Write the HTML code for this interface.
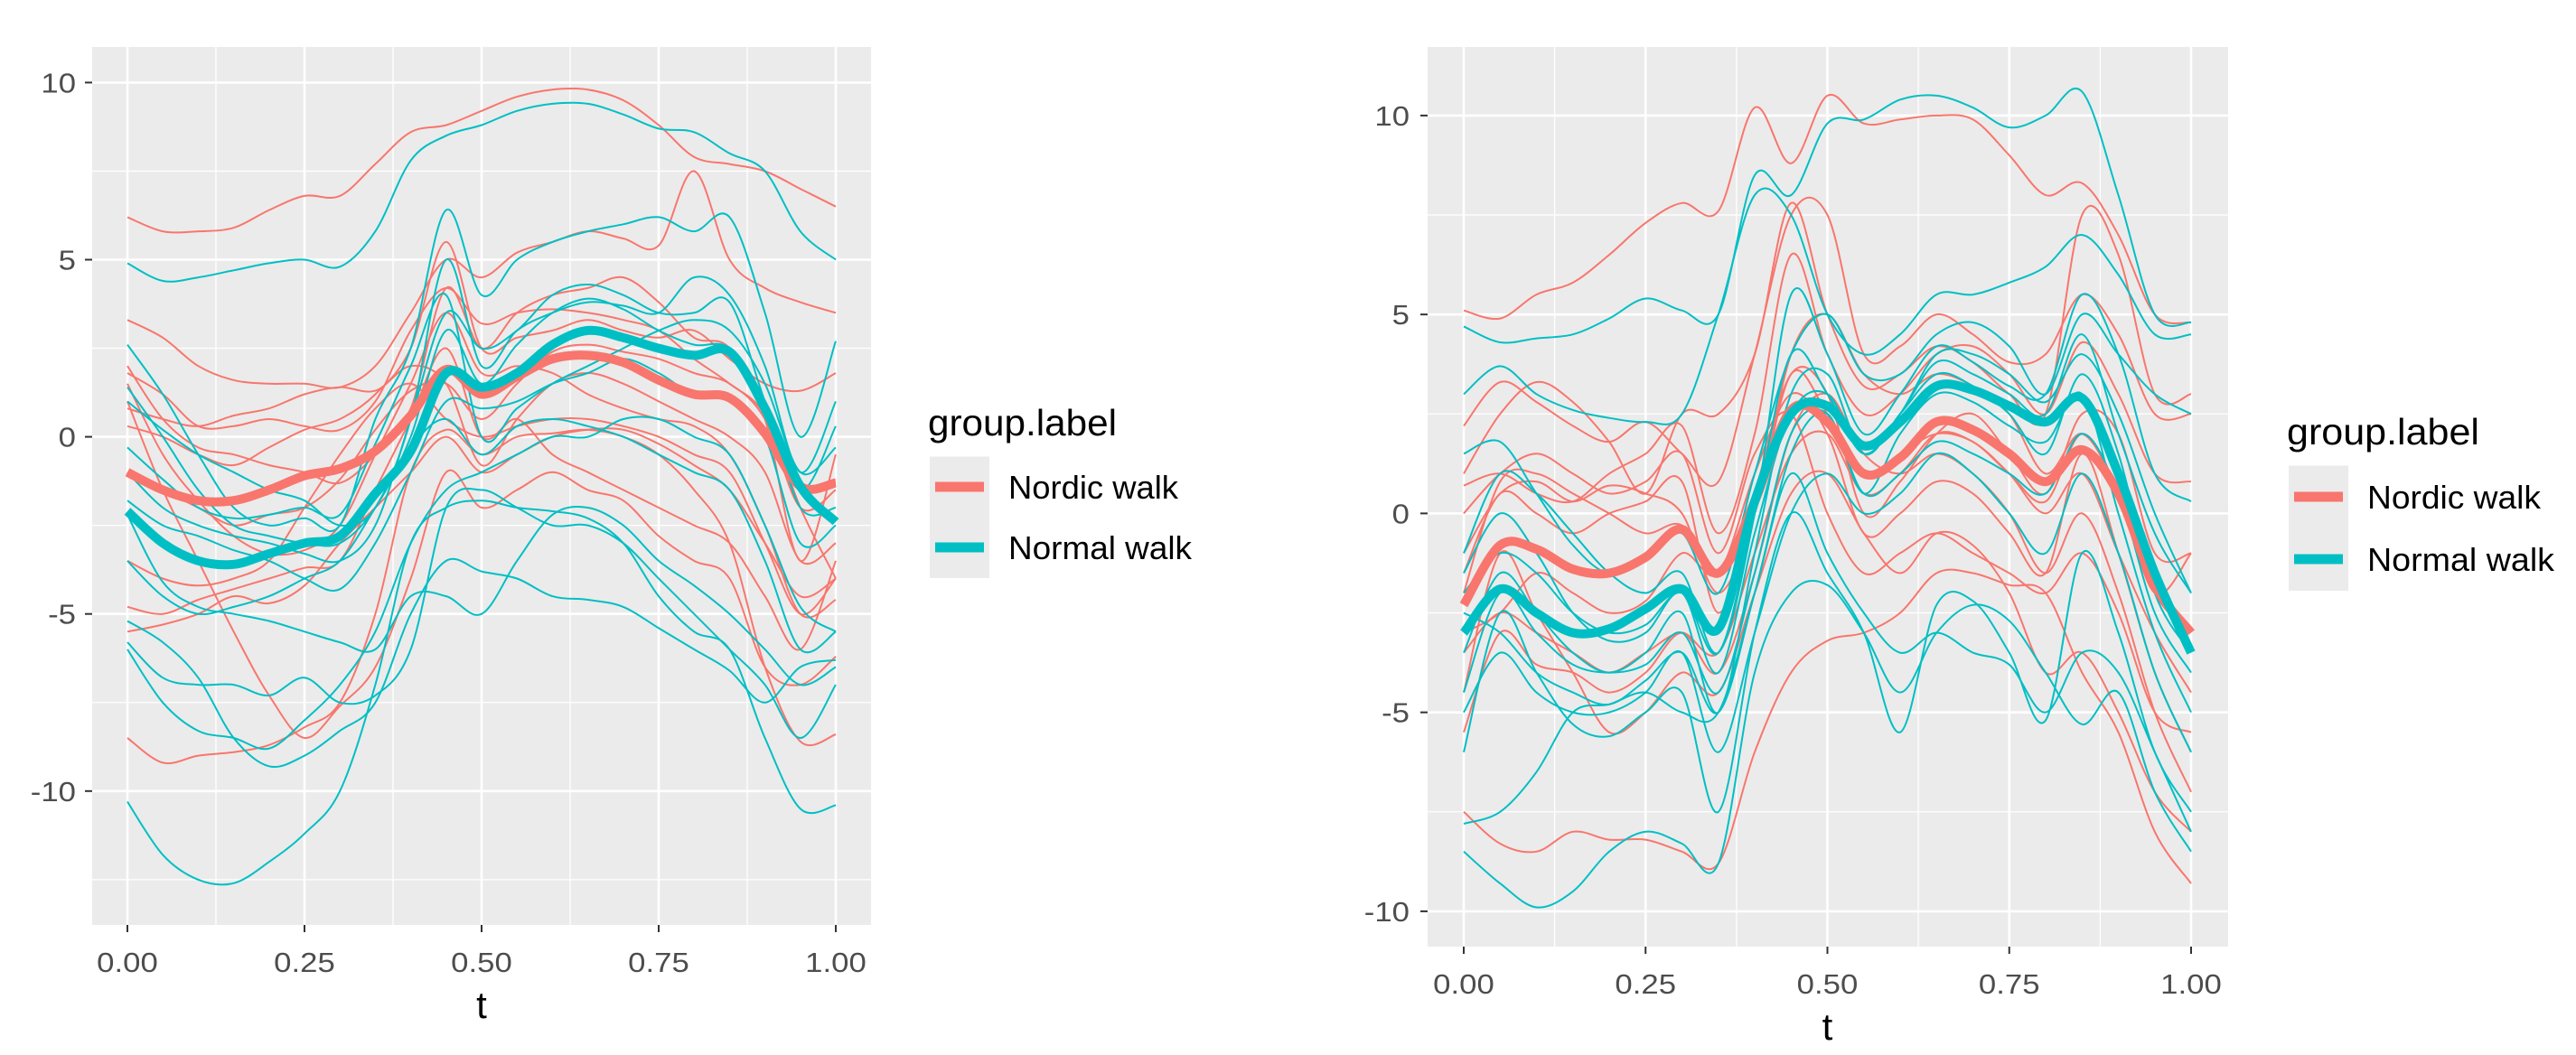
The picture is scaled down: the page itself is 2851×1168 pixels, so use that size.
<!DOCTYPE html>
<html><head><meta charset="utf-8">
<style>
html,body{margin:0;padding:0;background:#fff;}
svg{display:block;font-family:"Liberation Sans",Arial,sans-serif;}
</style></head>
<body>
<svg id="chart" width="2851" height="1168" viewBox="0 0 2851 1168" xmlns="http://www.w3.org/2000/svg"></svg>
<script>
const tGrid = [0,0.05,0.1,0.15,0.2,0.25,0.3,0.35,0.4,0.45,0.5,0.55,0.6,0.65,0.7,0.75,0.8,0.85,0.9,0.95,1];
const xTicks = [0,0.25,0.5,0.75,1];
const xTickLabels = ["0.00","0.25","0.50","0.75","1.00"];
const yTicks = [-10,-5,0,5,10];
const yTickLabels = ["-10","-5","0","5","10"];
const groups = ["Nordic walk","Normal walk"];

const leftNordicMean = [-1,-1.5,-1.8,-1.8,-1.5,-1.1,-0.9,-0.4,0.6,1.9,1.2,1.7,2.2,2.3,2.1,1.6,1.2,1.1,0.1,-1.4,-1.3];
const leftNormalMean = [-2.1,-3.0,-3.5,-3.6,-3.3,-3.0,-2.8,-1.6,-0.4,1.8,1.4,1.8,2.6,3.0,2.8,2.5,2.3,2.4,0.8,-1.4,-2.4];
const leftNordicCurves = [
[6.2,5.8,5.8,5.9,6.4,6.8,6.8,7.7,8.6,8.8,9.2,9.6,9.8,9.8,9.5,8.8,7.9,7.7,7.5,7,6.5],
[3.3,2.8,2.0,1.6,1.5,1.5,1.4,2.0,3.5,5,4.5,5.2,5.5,5.8,5.6,5.4,7.5,5,4.2,3.8,3.5],
[1.8,1.2,0.3,0.3,0.5,0.3,0.2,1.0,3,4.2,3.2,3.5,3.6,3.5,3.3,3.0,2.2,1.5,0.6,-2,-4],
[0.3,0,-0.5,-0.8,-0.3,0.2,0.5,1.2,2.5,5.5,2.5,2.8,3,3.3,3.0,2.8,3,2.2,1.5,1.3,1.8],
[-3.5,-4,-4.2,-4.0,-3.5,-2.0,-0.5,0.8,1.5,0.5,0,0.3,0.5,0.5,0.3,0,-0.5,-1,-3,-5,-4],
[-4.8,-5,-4.6,-4.3,-4.0,-3.7,-3.5,-1.5,0.5,2.5,0,0.5,-0.5,-1,-1.5,-2,-2.5,-3,-4.5,-6,-3.5],
[-8.5,-9.2,-9.0,-8.9,-8.7,-8.2,-7.5,-5,-1,0.2,-0.5,0,0.1,0.2,0,-0.5,-1.5,-3,-6.5,-8.6,-8.4],
[1.5,-0.5,-1.8,-2.8,-3.3,-3.2,-2.5,-0.5,1.5,3.5,1.8,2,1.8,1.2,0.8,0.5,0.3,-0.5,-2.5,-5,-4.6],
[1.0,-1.5,-3.5,-5.5,-7.3,-8.5,-7.6,-6.5,-4,-1,-2,-1.5,-1,-1.5,-1.8,-2.8,-3.5,-4,-6.5,-7,-6.2],
[2.0,0.5,-0.3,-0.5,-0.8,-1,-1.3,-0.5,0.8,4.2,2.5,3.5,4.0,4.2,4.5,3.8,2.8,2.5,0.5,-3.5,-0.5],
[-1.0,-1.5,-2.0,-2.5,-2.2,-2.0,-1.2,0.2,1.3,1.5,0.5,1.5,2.4,2.6,2.4,2.2,1.8,1.5,0.5,-2,-1.5],
[0.8,0.5,0.3,0.6,0.8,1.2,1.4,1.3,2.0,1.5,-0.8,0.5,1.5,1.8,1.5,1.0,0.5,0,-1,-3.5,-3],
[-5.5,-5.3,-5.0,-4.5,-4.7,-4.2,-3.0,-2,-1,0,-1,-0.5,0,0.2,0.2,-0.2,-0.8,-1.5,-3,-4.5,-4]
];
const leftNormalCurves = [
[4.9,4.4,4.5,4.7,4.9,5.0,4.8,5.8,7.8,8.5,8.8,9.2,9.4,9.4,9.1,8.7,8.6,8.0,7.5,5.8,5.0],
[-10.3,-11.8,-12.5,-12.6,-12.0,-11.2,-10,-7,-3,-2,-1.8,-2,-2.1,-2.3,-3,-4.5,-5.5,-6,-8.5,-10.5,-10.4],
[-5.8,-6.8,-7.0,-7.0,-7.3,-6.8,-7.5,-7.3,-6,-2,-1.5,-2,-2.5,-2.5,-3,-4,-5,-6,-7,-8.5,-7],
[2.6,1.2,-0.5,-2,-2.5,-2.3,-2.5,0.5,2.5,6.4,4,5,5.5,5.8,6.0,6.2,5.8,6.2,3.5,0,2.7],
[-0.3,-1.2,-2.0,-2.3,-2.2,-2.0,-2.2,-0.2,2,4,0,0.8,1.5,2.0,2.5,3.0,3.3,3.0,1.5,-1,-0.3],
[-5.2,-5.8,-6.8,-8.5,-9.3,-9.0,-8.3,-7.5,-5,-3.5,-3.8,-4,-4.5,-4.6,-4.8,-5.4,-6,-6.6,-7.5,-6.5,-6.3],
[-2.2,-4.1,-4.8,-5.0,-5.2,-5.5,-5.8,-6,-4.5,-4.5,-5,-3.5,-2.2,-2,-2.5,-3.5,-4.2,-5,-6,-7,-6.5],
[1.4,0.0,-1.5,-2.5,-2.8,-3,-3.0,-2,0,3,1.5,2.6,3.5,3.9,3.6,3.0,2.6,2.5,1.0,-2,-2],
[-1.8,-2.5,-2.8,-3.2,-3.5,-4,-4.3,-3,-1,1,0.8,1,1.5,1.8,2.2,1.8,1.2,1.2,0,-3,-2.5],
[-3.5,-4.5,-5,-4.8,-4.5,-4.0,-3.5,-2,-0.3,0.5,-0.5,0.3,0.5,0.3,0,-0.5,-1,-1.5,-3.5,-6,-5.5],
[-1.0,-2.0,-2.5,-2.8,-3.0,-3.3,-3.5,-2.5,0.5,3.5,2.5,3,4,4.3,4,3.5,3.5,3.8,1,-1.5,0.3],
[-6,-7.5,-8.3,-8.5,-8.8,-8.0,-7.0,-5.5,-3,-1.5,-1,-0.5,0,0,0.5,0.5,0,-0.5,-2.5,-4.8,-5.5],
[1.0,0.2,-0.5,-1,-1.5,-1.8,-2.5,-2,0.5,5,2,3,3.5,3.8,3.7,3.5,4.5,4,2,-1,1]
];

const rightNordicMean = [-2.3,-0.8,-0.9,-1.4,-1.5,-1.1,-0.4,-1.5,0.3,2.6,2.3,1.0,1.4,2.3,2.1,1.5,0.8,1.6,0.5,-1.8,-3.0];
const rightNormalMean = [-3.0,-1.9,-2.5,-3.0,-2.9,-2.4,-1.9,-2.9,0.3,2.5,2.7,1.7,2.3,3.2,3.1,2.7,2.3,2.9,1.0,-1.5,-3.5];
const rightNordicCurves = [
[5.1,4.9,5.5,5.8,6.5,7.3,7.8,7.6,10.2,8.8,10.5,9.8,9.9,10.0,9.9,9.0,8.0,8.3,7,5,4.8],
[2.2,3.3,2.8,2.2,1.8,2.3,1.5,0.8,4,7.5,7.5,4,4.2,5.0,4.5,3.8,4,5.5,4.5,2.5,2.5],
[0.7,1.0,0.5,0.3,1.0,1.5,2.2,-0.5,2,6.5,4.0,2.5,3,4,4.2,3.5,2.5,4.3,3,1,0.8],
[-1.5,0.5,0.0,-0.5,0.0,0.3,0.8,-2.5,0.5,3.5,3,0,0.8,2,2.5,1.5,0.5,2.5,2,-1,-1],
[-7.5,-8.3,-8.5,-8.0,-8.2,-8.2,-8.5,-8.8,-6,-4,-3.2,-3,-2.5,-1.5,-1.5,-1.8,-2,-4,-5.5,-8,-9.3],
[-4.5,-1.0,-2.5,-4.0,-5.5,-5.0,-4.0,-4.5,-2,0.5,1.0,-0.5,-1.5,-0.5,-0.8,-2,-4,-3.5,-5,-7,-8],
[-2.0,0.8,1.0,0.5,0,-0.5,-0.3,-1.5,0,4,5,3.5,3,3.5,3.2,2.5,1,2,0.5,-2,-3],
[0.0,1.0,1.5,1.0,0.5,0.8,1.5,-1,1.5,2.5,0,-1.5,-1,-0.5,-1,-1.5,-2,-1,-2.5,-5,-5.5],
[-3.5,-2.5,-3.0,-3.5,-4.0,-3.5,-3.0,-3.5,-1,1.5,2,0.5,1,2,1.8,1.0,0,1,-1,-3,-4.5],
[1.0,2.5,3.3,2.8,1.8,0.5,2.5,2.5,4,7.8,5,3.2,3.5,4.2,3.8,3,2.5,7.5,6.5,3,3],
[-5.5,-3.0,-3.8,-4.0,-4.5,-4.0,-3.0,-4.0,-1.5,2,3,1.5,1,1.5,1,0,-1.5,0,-2,-5,-7],
[-1.0,0.5,0.8,0.3,0.7,0.5,0.0,-2,0,3.5,2.5,1.0,1.5,2.0,1.8,1.0,0.3,2,0.5,-2,-1],
[-3.0,-2.5,-1.5,-2.0,-2.5,-2.2,-1.0,-1.5,1,3,2,-0.5,0,0.8,0.5,-0.5,-1.5,1.5,-1,-4,-6]
];
const rightNormalCurves = [
[4.7,4.3,4.4,4.5,4.9,5.4,5.1,5.0,8.5,8,9.8,9.9,10.4,10.5,10.2,9.7,10.0,10.6,8,5,4.8],
[-8.5,-9.3,-9.9,-9.5,-8.5,-8.0,-8.3,-8.8,-4,-2,-1.8,-3,-4.5,-3,-2.3,-2.7,-4,-5.3,-4.5,-7,-8.5],
[3.0,3.7,3.0,2.6,2.4,2.3,2.5,5,8,7.5,5,4.0,4.5,5.5,5.5,5.8,6.2,7.0,6,4.5,4.5],
[-7.8,-7.5,-6.5,-5.0,-4.8,-4.5,-5,-5,-2,1,-1,-2.5,-3.5,-3,-3.5,-3.8,-5,-3.5,-4,-6,-8],
[-6.0,-2.5,-4.0,-5.3,-5.6,-5.0,-4.5,-7.5,-3,0,-1.5,-3,-5.5,-2.3,-2.2,-3.5,-5.2,-1,-3,-6,-7.5],
[1.5,1.8,0.5,-0.8,-1.5,-1.0,-0.5,-2,1,4,5,3.5,3.5,4.5,4.8,4.2,3.0,5.0,4,3,2.5],
[-1.5,0.0,-1.0,-2.5,-3.2,-3.0,-2.0,-4,-0.5,2.5,3,1.5,2.5,4.0,4.0,3.5,2.8,4.0,2.5,0,-2.0],
[-3.5,-1.5,-2.5,-3.5,-4.0,-3.5,-2.5,-5,-1,3,3.5,1.5,2.5,3.5,3.2,2.5,1.5,3.5,1.5,-2,-3.5],
[-5.0,-3.5,-4.5,-5.0,-5.0,-4.5,-3.5,-6,-3,0,1,0,0.5,1.5,1,0,-1,1,-1,-4,-6],
[-1.0,1.0,0.5,-0.5,-1.5,-2.0,-1.5,-3.5,0,5.5,4,2,3,4.2,3.8,3.2,3.0,5.5,4,1,0.3],
[-2.5,-3.0,-4.0,-4.5,-4.8,-4.2,-3.5,-5,-2,1.5,2.5,0.5,2,3,2.8,2.2,1.8,3,0,-3,-5],
[-4.5,-2.0,-3.0,-3.8,-4.0,-3.8,-3.0,-4.5,-1.5,2,2.5,0.5,1.0,1.8,1.5,1.0,0.5,2,0.5,-2.5,-4],
[-2.0,-1.0,-1.5,-2.5,-3.0,-2.8,-2.0,-3.5,0,4.0,3,1.5,2.5,3.8,3.5,3,2.5,4.5,2,-0.5,-2.0]
];

const RED = "#F8766D", BLUE = "#00BFC4";
const NS = "http://www.w3.org/2000/svg";
const svg = document.getElementById("chart");
function mk(tag, attrs, parent){
  const e = document.createElementNS(NS, tag);
  for (const k in attrs) e.setAttribute(k, attrs[k]);
  (parent||svg).appendChild(e);
  return e;
}
function stretch(t, sx){
  const w = t.getComputedTextLength();
  t.setAttribute("textLength", (w*sx).toFixed(1));
  t.setAttribute("lengthAdjust", "spacingAndGlyphs");
}
function smoothPath(pts){
  let d = "M" + pts[0][0].toFixed(1) + "," + pts[0][1].toFixed(1);
  for (let i=0;i<pts.length-1;i++){
    const p0 = pts[Math.max(0,i-1)], p1 = pts[i], p2 = pts[i+1], p3 = pts[Math.min(pts.length-1,i+2)];
    const c1x = p1[0]+(p2[0]-p0[0])/6, c1y = p1[1]+(p2[1]-p0[1])/6;
    const c2x = p2[0]-(p3[0]-p1[0])/6, c2y = p2[1]-(p3[1]-p1[1])/6;
    d += " C"+c1x.toFixed(1)+","+c1y.toFixed(1)+" "+c2x.toFixed(1)+","+c2y.toFixed(1)+" "+p2[0].toFixed(1)+","+p2[1].toFixed(1);
  }
  return d;
}

function drawPanel(cfg){
  const g = mk("g", {});
  
  
  const xs = v => cfg.x0 + v*(cfg.x1-cfg.x0);
  const ys = v => cfg.y0 - v*cfg.unit;
  const bg = mk("rect", {x:cfg.L, y:cfg.T, width:cfg.R-cfg.L, height:cfg.B-cfg.T, fill:"#EBEBEB"}, g);
  
  
  const minorY = [];
  for (let v=-12.5; v<=12.5; v+=5) minorY.push(v);
  minorY.forEach(v=>{ const y=ys(v); if(y>cfg.T&&y<cfg.B){
    const l = mk("line",{x1:cfg.L,x2:cfg.R,y1:y,y2:y,stroke:"#fff","stroke-width":1.3},g);
     }});
  [0.125,0.375,0.625,0.875].forEach(v=>{ const x=xs(v);
    const l = mk("line",{x1:x,x2:x,y1:cfg.T,y2:cfg.B,stroke:"#fff","stroke-width":1.3},g);
     });
  yTicks.forEach((v,i)=>{ const y=ys(v);
    const l = mk("line",{x1:cfg.L,x2:cfg.R,y1:y,y2:y,stroke:"#fff","stroke-width":2.6},g);
     
    const tk = mk("line",{x1:cfg.L-8,x2:cfg.L,y1:y,y2:y,stroke:"#333","stroke-width":2},g);
     
    const t = mk("text",{x:cfg.L-cfg.ylabOff,y:y+11,"text-anchor":"end","font-size":31,fill:"#4D4D4D"},g);
    t.textContent = yTickLabels[i];
     
    stretch(t, 1.12);
  });
  xTicks.forEach((v,i)=>{ const x=xs(v);
    const l = mk("line",{x1:x,x2:x,y1:cfg.T,y2:cfg.B,stroke:"#fff","stroke-width":2.6},g);
     
    const tk = mk("line",{x1:x,x2:x,y1:cfg.B,y2:cfg.B+8,stroke:"#333","stroke-width":2},g);
     
    const t = mk("text",{x:x,y:cfg.B+52,"text-anchor":"middle","font-size":31,fill:"#4D4D4D"},g);
    t.textContent = xTickLabels[i];
     
    stretch(t, 1.12);
  });
  const xt = mk("text",{x:(cfg.x0+cfg.x1)/2,y:cfg.B+103,"text-anchor":"middle","font-size":42,fill:"#000"},g);
  xt.textContent = "t";
   

  const thin = (curves, color, nm) => curves.forEach(c=>{
    const p = mk("path",{d:smoothPath(c.map((v,i)=>[xs(tGrid[i]),ys(v)])),fill:"none",stroke:color,"stroke-width":2},g);
    
    
  });
  thin(cfg.nordic, RED, 'nordic-walk-curve');
  thin(cfg.normal, BLUE, 'normal-walk-curve');
  const m1 = mk("path",{d:smoothPath(cfg.nordicMean.map((v,i)=>[xs(tGrid[i]),ys(v)])),fill:"none",stroke:RED,"stroke-width":10,"stroke-linejoin":"round"},g);
   
  const m2 = mk("path",{d:smoothPath(cfg.normalMean.map((v,i)=>[xs(tGrid[i]),ys(v)])),fill:"none",stroke:BLUE,"stroke-width":10,"stroke-linejoin":"round"},g);
   

  const lg = mk("g",{},g);
   
  const tt = mk("text",{x:cfg.lx,y:cfg.ly,"font-size":41,fill:"#000"},lg);
  tt.textContent = "group.label";
   
  tt.setAttribute("textLength", cfg.titleW); tt.setAttribute("lengthAdjust","spacingAndGlyphs");
  groups.forEach((gname,i)=>{
    const cy = cfg.cy0 + i*cfg.eh;
    const box = mk("rect",{x:cfg.lx+2,y:cy-cfg.eh/2,width:66,height:cfg.eh+0.5,fill:"#EBEBEB"},lg);
     
    const ln = mk("line",{x1:cfg.lx+8,x2:cfg.lx+62,y1:cy,y2:cy,stroke:i?BLUE:RED,"stroke-width":11},lg);
     
    const lt = mk("text",{x:cfg.lx+89,y:cy+13,"font-size":36,fill:"#000"},lg);
    lt.textContent = gname;
     
    lt.setAttribute("textLength", i ? cfg.normalW : cfg.nordicW); lt.setAttribute("lengthAdjust","spacingAndGlyphs");
  });
}

drawPanel({name:'left-plot',L:102,R:964,T:52,B:1024,x0:141,x1:925,y0:483.6,unit:39.22,ylabOff:18,
  nordic:leftNordicCurves,normal:leftNormalCurves,nordicMean:leftNordicMean,normalMean:leftNormalMean,
  lx:1027,ly:482,cy0:539,eh:67,titleW:209,nordicW:188,normalW:203});
drawPanel({name:'right-plot',L:1580,R:2466,T:52,B:1048,x0:1620,x1:2425,y0:568.4,unit:44.05,ylabOff:20,
  nordic:rightNordicCurves,normal:rightNormalCurves,nordicMean:rightNordicMean,normalMean:rightNormalMean,
  lx:2531,ly:492,cy0:550,eh:69,titleW:213,nordicW:192,normalW:207});
</script>
</body></html>
